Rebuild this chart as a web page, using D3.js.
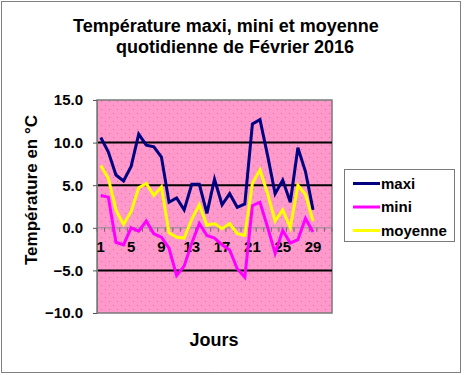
<!DOCTYPE html>
<html>
<head>
<meta charset="utf-8">
<script src="https://cdn.jsdelivr.net/npm/d3@7"></script>
<style>
    body { margin: 0; background: #fff; }
    svg { display: block; font-family: 'Liberation Sans', Arial, sans-serif; }
</style>
</head>
<body>
<svg id="chart"></svg>
<script>
const jours = [1, 2, 3, 4, 5, 6, 7, 8, 9, 10, 11, 12, 13, 14, 15, 16,
    17, 18, 19, 20, 21, 22, 23, 24, 25, 26, 27, 28, 29, 30, 31];
const joursAffiches = [1, 5, 9, 13, 17, 21, 25, 29];
const yTicks = [-10, -5, 0, 5, 10, 15];
const gridValues = [-5, 5, 10];

const maxi = [10.6, 8.9, 6.2, 5.5, 7.2, 11.0, 9.7, 9.5, 8.3, 3.0, 3.5, 2.1, 5.1, 5.1, 1.7,
    5.7, 2.7, 4.0, 2.4, 2.8, 12.2, 12.7, 8.5, 4.0, 5.6, 3.0, 9.4, 6.6, 2.1];
const mini = [3.8, 3.6, -1.7, -2.0, 0.0, -0.4, 0.8, -0.7, -1.1, -2.4, -5.6, -4.5, -1.8, 0.5, -0.9,
    -1.2, -2.0, -2.6, -4.8, -5.8, 2.6, 3.0, 0.1, -3.0, -0.3, -1.8, -1.4, 1.1, -0.5];
const moyenne = [7.3, 5.8, 2.1, 0.4, 1.9, 4.7, 5.2, 3.8, 4.8, -0.6, -1.1, -1.2, 1.0, 2.7, 0.3,
    0.5, -0.1, 0.5, -0.7, -0.9, 5.2, 6.8, 4.0, 0.8, 2.1, 0.0, 5.0, 3.9, 0.8];

const seriesNames = ['maxi', 'mini', 'moyenne'];
const seriesColors = ['#000080', '#ff00ff', '#ffff00'];

const W = 464, H = 375;
const plot = { left: 97, right: 332, top: 100, bottom: 313 };

const svg = d3.select('#chart').attr('width', W).attr('height', H);

// chart area border
svg.append('rect')
    .attr('x', 1.5).attr('y', 1.5)
    .attr('width', 459).attr('height', 371)
    .attr('fill', '#fff')
    .attr('stroke', '#000')
    .attr('stroke-dasharray', '1,1');

// title
const title = svg.append('text')
    .attr('font-size', 18)
    .attr('font-weight', 'bold')
    .attr('text-anchor', 'middle');
title.append('tspan').attr('x', 226).attr('y', 32).text('Température maxi, mini et moyenne');
title.append('tspan').attr('x', 235).attr('y', 53).text('quotidienne de Février 2016');

const xScale = d3.scaleBand()
    .domain(jours)
    .range([plot.left, plot.right]);
const yScale = d3.scaleLinear()
    .domain([-10, 15])
    .range([plot.bottom, plot.top]);
const cx = d => xScale(d) + xScale.bandwidth() / 2;

// dotted pink background
const defs = svg.append('defs');
const pat = defs.append('pattern')
    .attr('id', 'dots')
    .attr('patternUnits', 'userSpaceOnUse')
    .attr('width', 8).attr('height', 8);
pat.append('rect').attr('width', 8).attr('height', 8).attr('fill', '#ff99cc');
pat.append('rect').attr('x', 1).attr('y', 1).attr('width', 1).attr('height', 1).attr('fill', '#d9709f');
pat.append('rect').attr('x', 5).attr('y', 5).attr('width', 1).attr('height', 1).attr('fill', '#d9709f');

svg.append('rect')
    .attr('x', plot.left).attr('y', plot.top)
    .attr('width', plot.right - plot.left)
    .attr('height', plot.bottom - plot.top)
    .attr('fill', 'url(#dots)')
    .attr('stroke', '#7a7a7a')
    .attr('stroke-width', 1.5);

// gridlines
svg.append('g')
    .selectAll('line')
    .data(gridValues)
    .join('line')
    .attr('x1', plot.left).attr('x2', plot.right)
    .attr('y1', d => yScale(d)).attr('y2', d => yScale(d))
    .attr('stroke', '#000')
    .attr('stroke-width', 2);

// y axis
const yAxis = svg.append('g')
    .attr('transform', `translate(${plot.left}, 0)`)
    .call(d3.axisLeft(yScale).tickValues(yTicks).tickSize(4).tickFormat(d3.format('.1f')));
yAxis.select('.domain').attr('stroke', '#7a7a7a');
yAxis.selectAll('.tick line').attr('stroke', '#555');
yAxis.selectAll('text')
    .attr('font-size', 15)
    .attr('font-weight', 'bold')
    .attr('font-family', "'Liberation Sans', Arial, sans-serif")
    .attr('fill', '#000')
    .attr('x', -14);

// x axis (crosses at 0)
const zeroY = yScale(0);
const xAxisG = svg.append('g');
xAxisG.append('line')
    .attr('x1', plot.left).attr('x2', plot.right)
    .attr('y1', zeroY).attr('y2', zeroY)
    .attr('stroke', '#8a8a8a')
    .attr('stroke-width', 1);
xAxisG.selectAll('.xtick')
    .data(jours.concat([32]))
    .join('line')
    .attr('class', 'xtick')
    .attr('x1', d => d === 32 ? plot.right : xScale(d))
    .attr('x2', d => d === 32 ? plot.right : xScale(d))
    .attr('y1', zeroY).attr('y2', zeroY + 4)
    .attr('stroke', '#6a6a6a');
xAxisG.selectAll('text')
    .data(joursAffiches)
    .join('text')
    .attr('x', d => cx(d))
    .attr('y', zeroY + 24)
    .attr('text-anchor', 'middle')
    .attr('font-size', 15)
    .attr('font-weight', 'bold')
    .text(d => d);

// series lines
const series = [maxi, mini, moyenne];
const line = d3.line()
    .x((d, i) => cx(jours[i]))
    .y(d => yScale(d));

svg.append('g')
    .selectAll('path')
    .data(series)
    .join('path')
    .attr('fill', 'none')
    .attr('stroke', (d, i) => seriesColors[i])
    .attr('stroke-width', 3)
    .attr('stroke-linejoin', 'miter')
    .attr('d', d => line(d));

// axis titles
svg.append('text')
    .attr('transform', 'translate(37, 190) rotate(-90)')
    .attr('text-anchor', 'middle')
    .attr('font-size', 17)
    .attr('font-weight', 'bold')
    .text('Température en °C');

svg.append('text')
    .attr('x', 214)
    .attr('y', 346)
    .attr('text-anchor', 'middle')
    .attr('font-size', 18)
    .attr('font-weight', 'bold')
    .text('Jours');

// legend
const legend = svg.append('g');
legend.append('rect')
    .attr('x', 344.5).attr('y', 169.5)
    .attr('width', 110).attr('height', 72)
    .attr('fill', '#fff')
    .attr('stroke', '#7a7a7a');
const legendY = d3.scalePoint().domain(seriesNames).range([183.5, 230.5]);
const items = legend.selectAll('g')
    .data(seriesNames)
    .join('g')
    .attr('transform', d => `translate(0, ${legendY(d)})`);
items.append('line')
    .attr('x1', 353).attr('x2', 380)
    .attr('stroke', (d, i) => seriesColors[i])
    .attr('stroke-width', 3);
items.append('text')
    .attr('x', 381)
    .attr('y', 5)
    .attr('font-size', 15)
    .attr('font-weight', 'bold')
    .text(d => d);
</script>
</body>
</html>
